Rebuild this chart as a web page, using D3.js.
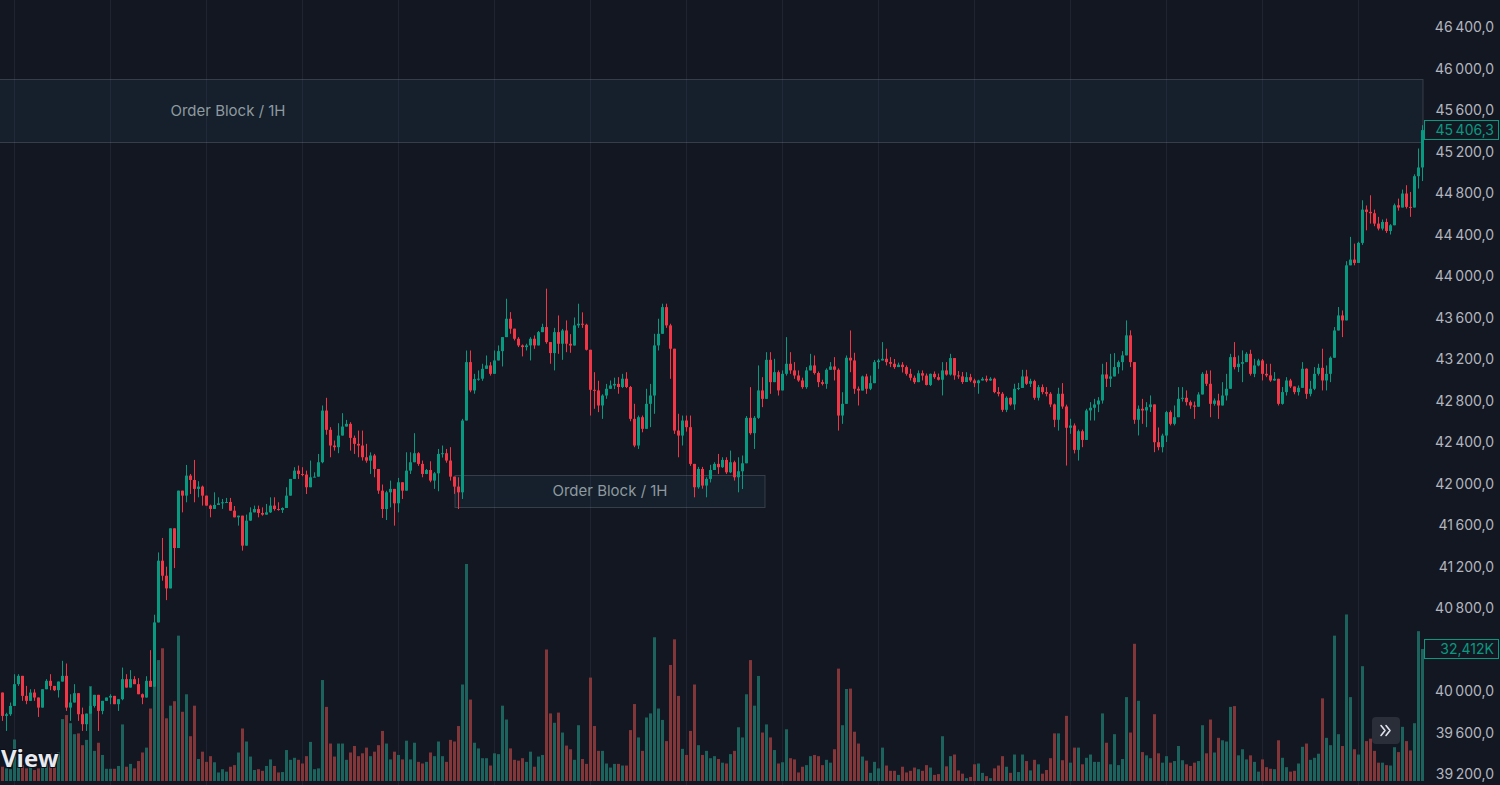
<!DOCTYPE html>
<html>
<head>
<meta charset="utf-8">
<script src="https://cdn.jsdelivr.net/npm/d3@7"></script>
<style>
  html, body { margin: 0; padding: 0; background: #131722; overflow: hidden; }
  text { font-family: Inter, Roboto, "Noto Sans", sans-serif; }
</style>
</head>
<body>
<div id="chart"></div>
<script>
// BTC 1H candles (open = previous close)
var firstOpen = 39985;
var closes = [
  39760,39776,39856,40066,40146,39953,39905,39985,39937,39840,40017,40098,
  40049,40008,40091,40146,39840,39889,39979,39776,39680,39782,39856,39963,
  39808,39905,39937,39953,39873,39921,40114,40033,40114,40066,39969,39937,
  40098,40040,40661,41256,41111,40989,41568,41378,41931,41883,42076,42034,
  41948,41970,41883,41787,41755,41793,41809,41819,41822,41738,41674,41690,
  41401,41642,41722,41754,41716,41700,41722,41787,41754,41745,41764,41883,
  42044,42124,42092,42086,41964,42060,42066,42205,42703,42517,42366,42350,
  42462,42549,42575,42440,42382,42366,42253,42220,42270,42140,41931,41754,
  41915,41948,41809,42012,41931,42124,42205,42292,42189,42092,42130,42028,
  42098,42285,42292,42221,42066,41970,41915,42607,43170,42897,43007,43010,
  43105,43138,43057,43186,43276,43411,43588,43492,43395,43331,43315,43331,
  43395,43331,43459,43508,43363,43257,43459,43347,43475,43347,43330,43524,
  43540,43530,43289,42903,42897,42752,42848,42913,42945,42960,42930,43010,
  42930,42623,42366,42639,42527,42768,42848,43331,43443,43700,43524,43299,
  42510,42462,42607,42543,42189,41964,42140,41980,42044,42130,42189,42157,
  42227,42108,42205,42060,42118,42195,42633,42485,42633,42897,42816,43192,
  42977,43073,42897,43057,43154,43090,43041,42993,42929,43090,43138,43065,
  42977,42960,43096,43128,43096,42655,42768,43212,43186,42913,42896,43032,
  42913,42967,43170,43186,43202,43170,43154,43122,43145,43122,43057,43019,
  42977,43063,43040,42950,43057,43025,43000,43090,43050,43209,43042,43032,
  42978,43025,42993,42967,42993,43009,42993,43010,42881,42865,42710,42826,
  42762,42913,42921,43032,42961,42987,42826,42929,42881,42865,42762,42614,
  42865,42742,42537,42559,42324,42504,42420,42704,42730,42762,42800,43051,
  43010,43032,43122,43170,43235,43428,43170,42614,42720,42704,42736,42762,
  42398,42350,42462,42688,42575,42639,42816,42826,42784,42752,42740,42858,
  43057,42961,42768,42800,42752,42848,42913,43218,43122,43154,43170,43250,
  43057,43138,43186,43057,43042,42993,43009,42768,42881,42993,42935,42881,
  42922,43106,42864,42913,43057,43115,42993,43057,43212,43475,43620,43572,
  44103,44158,44126,44319,44640,44618,44605,44505,44457,44521,44434,44489,
  44682,44660,44795,44666,44660,44962,45046,45406.3
];
var highs = [
  39985,39790,39889,40162,40162,40146,40049,40017,40017,39937,40017,40114,
  40162,40049,40091,40291,40265,39969,40066,39979,39840,39782,40040,39963,
  39963,39905,39937,39969,39953,39921,40226,40162,40201,40143,40124,39976,
  40143,40394,40735,41336,41475,41198,41568,41568,41931,41931,42179,42092,
  42227,42022,41980,41883,41796,41915,41867,41851,41861,41861,41783,41690,
  41690,41700,41770,41787,41787,41770,41803,41867,41867,41819,41770,41964,
  42044,42157,42173,42157,42124,42221,42108,42285,42752,42826,42543,42414,
  42581,42678,42613,42591,42462,42510,42510,42382,42300,42285,42140,41990,
  41930,42028,41948,42054,42012,42301,42301,42485,42302,42221,42140,42214,
  42110,42333,42366,42333,42350,42066,42060,42623,43282,43282,43057,43090,
  43154,43234,43170,43282,43331,43411,43781,43652,43492,43411,43340,43347,
  43410,43427,43470,43540,43878,43363,43500,43620,43490,43572,43440,43600,
  43733,43650,43540,43289,43073,42990,42860,42960,42993,43020,43025,43057,
  43073,42940,42768,42655,42655,42913,42960,43443,43588,43733,43733,43540,
  43299,42672,42655,42655,42655,42189,42160,42160,42060,42180,42205,42285,
  42253,42253,42317,42220,42253,42270,42650,42929,42650,43138,43025,43266,
  43266,43202,43090,43090,43411,43266,43170,43090,43020,43122,43250,43234,
  43080,43000,43110,43170,43218,43110,42880,43234,43475,43260,42935,43040,
  43057,43040,43190,43202,43363,43299,43218,43200,43165,43170,43138,43105,
  43040,43090,43090,43060,43060,43080,43060,43170,43170,43250,43209,43084,
  43075,43073,43057,43010,43000,43025,43040,43025,43020,42929,42881,42840,
  42830,42961,42970,43096,43096,43010,43000,42950,42955,42929,42881,42770,
  42923,42968,42760,42624,42579,42520,42520,42720,42784,42816,42832,43154,
  43170,43250,43257,43186,43276,43572,43476,43170,42752,42816,42784,42849,
  42762,42540,42480,42700,42704,42752,42929,42929,42897,42800,42790,42880,
  43073,43090,43090,42820,42865,42977,43057,43250,43363,43234,43283,43266,
  43289,43202,43202,43200,43154,43154,43074,43010,42930,43025,43009,42935,
  42945,43170,43110,42990,43122,43154,43299,43138,43225,43508,43701,43668,
  44143,44377,44312,44330,44730,44680,44778,44640,44570,44545,44553,44500,
  44698,44746,44833,44875,44810,44980,45229,45454
];
var lows = [
  39712,39615,39760,39856,40049,39905,39873,39905,39905,39750,39840,40017,
  40008,40000,39937,40091,39808,39712,39889,39712,39615,39615,39782,39840,
  39615,39776,39905,39873,39873,39808,39911,40033,40033,40066,39969,39873,
  39937,40040,40040,40661,41063,40876,40989,41185,41378,41722,41819,41899,
  41819,41867,41787,41787,41674,41755,41793,41755,41815,41738,41674,41594,
  41353,41401,41640,41722,41674,41690,41700,41716,41738,41738,41716,41764,
  41883,42044,42044,42070,41899,41964,42060,42066,42195,42470,42253,42317,
  42292,42462,42549,42317,42285,42253,42221,42200,42092,42060,41900,41668,
  41648,41770,41594,41722,41851,41931,42092,42205,42170,42060,42090,42012,
  41948,41925,42250,42200,42028,41900,41754,41851,42607,42880,42865,42990,
  42990,43105,43040,43057,43186,43128,43411,43443,43379,43315,43225,43282,
  43186,43298,43331,43459,43347,43154,43090,43250,43192,43266,43260,43330,
  43500,43500,43282,42655,42720,42688,42623,42816,42913,42910,42865,42920,
  42920,42600,42350,42333,42494,42527,42543,42672,43282,43443,43500,43009,
  42478,42253,42366,42500,42170,41867,41950,41950,41867,42010,42130,42092,
  42150,42092,42100,42028,41915,41947,42195,42470,42333,42623,42736,42816,
  42864,42977,42848,42897,43040,43057,43009,42980,42913,42913,43090,43050,
  42929,42945,42913,43096,42993,42510,42575,42768,43073,42864,42752,42896,
  42864,42900,42967,43105,43186,43138,43122,43105,43122,43070,43040,42993,
  42960,42977,42993,42945,42940,43009,42993,42849,43040,43040,43000,43009,
  42960,42978,42977,42929,42865,42993,42977,42990,42870,42840,42690,42688,
  42750,42710,42900,42921,42950,42930,42807,42800,42860,42840,42736,42543,
  42510,42720,42173,42479,42290,42221,42350,42420,42607,42607,42688,42770,
  42930,42930,43032,43058,43090,43235,43122,42575,42463,42575,42543,42690,
  42302,42320,42300,42400,42560,42560,42639,42790,42752,42720,42623,42740,
  42858,42940,42639,42750,42623,42752,42800,42913,43100,43074,42977,43170,
  43040,43025,43130,42993,43025,42980,42990,42752,42760,42848,42920,42860,
  42848,42922,42816,42840,42900,43040,42897,42897,42977,43212,43475,43411,
  43572,44103,44103,44126,44300,44440,44505,44480,44440,44440,44415,44400,
  44489,44630,44660,44650,44570,44660,44843,44915
];
// volume in K
var volumes = [
  3.5,3.1,2.9,10.2,5.2,3.9,3.1,3.5,2.7,3.1,5.2,4.3,
  6.8,4.2,7.0,15.2,16.2,14.2,11.5,11.7,8.8,10.1,23.3,7.4,
  9.4,6.4,3.0,3.0,3.0,3.7,13.9,3.5,4.2,3.1,4.9,7.0,
  8.2,17.8,23.1,29.7,32.6,15.4,18.5,19.6,35.7,17.0,21.3,11.0,
  18.5,5.4,7.2,4.7,6.1,4.6,2.1,2.9,2.3,3.5,3.9,7.0,
  12.9,9.7,6.0,2.7,2.9,2.5,3.7,5.3,3.7,2.1,2.2,7.6,
  5.2,5.7,5.2,4.3,6.1,9.6,2.9,3.1,24.8,18.2,9.2,6.0,
  9.2,9.2,5.2,7.0,8.6,6.1,6.8,8.2,6.1,7.2,8.8,12.3,
  9.2,5.3,7.2,6.4,5.3,9.9,5.3,9.4,4.7,4.3,4.7,7.0,
  6.1,9.7,6.1,4.7,10.1,9.7,13.5,23.7,53.3,20.0,9.4,8.0,
  5.6,5.6,3.8,6.8,6.6,18.5,15.1,8.0,5.2,5.0,5.6,4.7,
  7.2,3.5,6.0,6.4,32.3,16.6,14.3,16.8,11.9,8.7,7.8,5.2,
  13.7,5.4,4.2,25.4,13.5,7.4,7.4,4.3,3.3,4.2,4.2,3.8,
  3.8,12.5,18.9,10.7,7.4,15.6,16.6,35.3,17.8,15.0,9.8,28.5,
  34.8,20.9,7.9,6.4,12.3,23.7,8.8,6.4,7.4,5.6,6.1,5.4,
  4.5,4.3,6.6,7.4,13.2,10.7,21.3,29.7,18.5,25.8,11.9,13.9,
  10.7,7.6,4.3,4.6,12.7,5.6,5.3,2.1,3.5,3.9,6.1,6.4,
  6.1,3.9,5.2,4.5,7.8,27.6,13.7,22.6,22.7,12.1,9.2,6.0,
  5.0,2.0,4.7,3.1,8.2,3.8,2.5,2.5,1.5,3.5,2.1,2.5,
  3.3,2.9,2.5,3.9,3.3,1.5,1.7,11.0,3.6,6.1,6.5,2.6,
  1.8,0.7,1.0,4.1,4.3,2.0,1.2,0.7,3.1,3.8,6.1,3.5,
  2.0,6.5,2.2,6.5,4.9,2.6,5.2,4.1,1.8,2.7,5.6,11.7,
  11.7,5.1,16.0,4.5,8.2,8.2,4.1,5.7,6.5,4.7,4.7,16.6,
  9.4,4.1,11.5,3.9,5.4,20.6,11.9,33.7,19.7,7.1,6.3,5.6,
  16.4,6.8,4.5,6.1,4.5,4.9,8.6,5.1,4.1,3.7,4.5,4.9,
  13.7,6.8,15.1,7.0,10.6,10.0,9.7,18.2,18.4,6.3,7.8,5.3,
  6.3,4.7,2.3,5.3,3.4,3.0,2.9,10.0,5.7,3.4,2.3,2.5,
  4.3,8.4,9.2,5.2,5.7,6.7,20.3,10.6,8.8,35.7,11.5,8.6,
  40.9,20.6,7.8,6.5,28.2,9.8,10.4,7.4,4.5,4.5,3.9,3.8,
  8.3,7.1,13.3,9.8,7.5,14.2,36.8,32.412
];
// 40 400 sits under the volume tag in the original, so it is not listed
var priceTicks = [39200,39600,40000,40800,41200,41600,42000,42400,42800,
                  43200,43600,44000,44400,44800,45200,45600,46000,46400];
var dayStarts = [3,27,51,75,99,123,147,171,195,219,243,267,291,315,339];
var orderBlocks = [
  {from: -200, to: 313, top: 45898, bottom: 45290, extend: true, label: "Order Block / 1H"},
  {from: 113.25, to: 190.75, top: 42085, bottom: 41775, extend: false, label: "Order Block / 1H"}
];

var W = 1500, H = 785, plotRight = 1423;
var green = "#089981", red = "#f23645";
var volGreen = "#1d635d", volRed = "#83363a";

var candles = closes.map(function(c, i) {
  var o = i === 0 ? firstOpen : closes[i - 1];
  return {i: i, o: o, c: c,
          h: Math.max(highs[i], o, c), l: Math.min(lows[i], o, c), v: volumes[i]};
});

var svg = d3.select("#chart").append("svg")
  .attr("width", W).attr("height", H)
  .style("display", "block").style("background", "#131722");

var x = d3.scaleLinear().domain([0, closes.length - 1]).range([2, 1422]);
var y = d3.scaleLinear().domain([39200, 46400]).range([774, 27]);
var yv = d3.scaleLinear().domain([0, d3.max(volumes)]).range([781, 564]);

var loc = d3.formatLocale({decimal: ",", thousands: "\u2009", grouping: [3], currency: ["", ""]});
var fmtPrice = loc.format(",.1f");

// vertical day grid
svg.append("g").selectAll("line").data(dayStarts).enter().append("line")
  .attr("x1", function(d) { return Math.round(x(d)) + 0.5; })
  .attr("x2", function(d) { return Math.round(x(d)) + 0.5; })
  .attr("y1", 0).attr("y2", H)
  .attr("stroke", "#1f2432").attr("stroke-width", 1);

// order blocks
var ob = svg.append("g");
orderBlocks.forEach(function(b) {
  var x0 = Math.max(x(b.from), -2);
  var x1 = b.extend ? plotRight : x(b.to);
  ob.append("rect")
    .attr("x", x0).attr("y", Math.round(y(b.top)) + 0.5)
    .attr("width", x1 - x0).attr("height", Math.round(y(b.bottom) - y(b.top)))
    .attr("fill", "rgba(40,100,120,0.12)")
    .attr("stroke", "rgba(120,128,140,0.35)").attr("stroke-width", 1);
  ob.append("text")
    .attr("x", x((b.from + b.to) / 2)).attr("y", (y(b.top) + y(b.bottom)) / 2)
    .attr("text-anchor", "middle").attr("dominant-baseline", "central")
    .attr("fill", "#8e9aa0").style("font-size", "15px")
    .text(b.label);
});

// volume
svg.append("g").selectAll("rect").data(candles).enter().append("rect")
  .attr("x", function(d) { return Math.round(x(d.i)) - 1; })
  .attr("width", 3)
  .attr("y", function(d) { return yv(d.v); })
  .attr("height", function(d) { return yv(0) - yv(d.v); })
  .attr("fill", function(d) { return d.c >= d.o ? volGreen : volRed; });

// candles
var cg = svg.append("g").selectAll("g").data(candles).enter().append("g");
cg.append("rect")
  .attr("x", function(d) { return Math.round(x(d.i)); })
  .attr("width", 1)
  .attr("y", function(d) { return y(d.h); })
  .attr("height", function(d) { return Math.max(1, y(d.l) - y(d.h)); })
  .attr("fill", function(d) { return d.c >= d.o ? green : red; });
cg.append("rect")
  .attr("x", function(d) { return Math.round(x(d.i)) - 1; })
  .attr("width", 3)
  .attr("y", function(d) { return y(Math.max(d.o, d.c)); })
  .attr("height", function(d) { return Math.max(1, Math.abs(y(d.o) - y(d.c))); })
  .attr("fill", function(d) { return d.c >= d.o ? green : red; });

// price axis
var axis = svg.append("g").attr("transform", "translate(1424,0)")
  .call(d3.axisRight(y).tickValues(priceTicks).tickSize(0).tickFormat(fmtPrice));
axis.select(".domain").remove();
axis.selectAll("text")
  .attr("x", 70).attr("text-anchor", "end").attr("dy", "0.35em")
  .attr("fill", "#b2b5be").style("font-size", "14px")
  .style("font-family", "Inter, Roboto, sans-serif");

// last price / last volume tags
var last = candles[candles.length - 1];
function tag(yPos, label) {
  var g = svg.append("g");
  g.append("rect").attr("x", 1424.5).attr("y", Math.round(yPos) - 9.5)
    .attr("width", 74).attr("height", 19)
    .attr("fill", "#131722").attr("stroke", green).attr("stroke-width", 1);
  g.append("text").attr("x", 1494).attr("y", yPos).attr("dy", "0.35em")
    .attr("text-anchor", "end").attr("fill", green).style("font-size", "14px")
    .text(label);
}
tag(y(last.c), fmtPrice(last.c));
tag(yv(last.v), loc.format(",.3f")(last.v) + "K");

// scroll button
var btn = svg.append("g");
btn.append("rect").attr("x", 1372).attr("y", 717).attr("width", 28).attr("height", 27)
  .attr("rx", 4).attr("fill", "#2a2e39");
btn.append("path").attr("d", "M1381,725.5l4,5l-4,5M1386,725.5l4,5l-4,5")
  .attr("fill", "none").attr("stroke", "#e0e3eb").attr("stroke-width", 1.6)
  .attr("stroke-linecap", "round").attr("stroke-linejoin", "round");

// watermark tail
svg.append("text").attr("x", 1).attr("y", 767).attr("text-anchor", "start")
  .attr("fill", "#e8eaf0").style("font-size", "24px").style("font-weight", 700)
  .style("font-family", "\"Open Sans\", Inter, sans-serif")
  .style("paint-order", "stroke").attr("stroke", "#0c0f17").attr("stroke-width", 2)
  .text("View");
</script>
</body>
</html>
